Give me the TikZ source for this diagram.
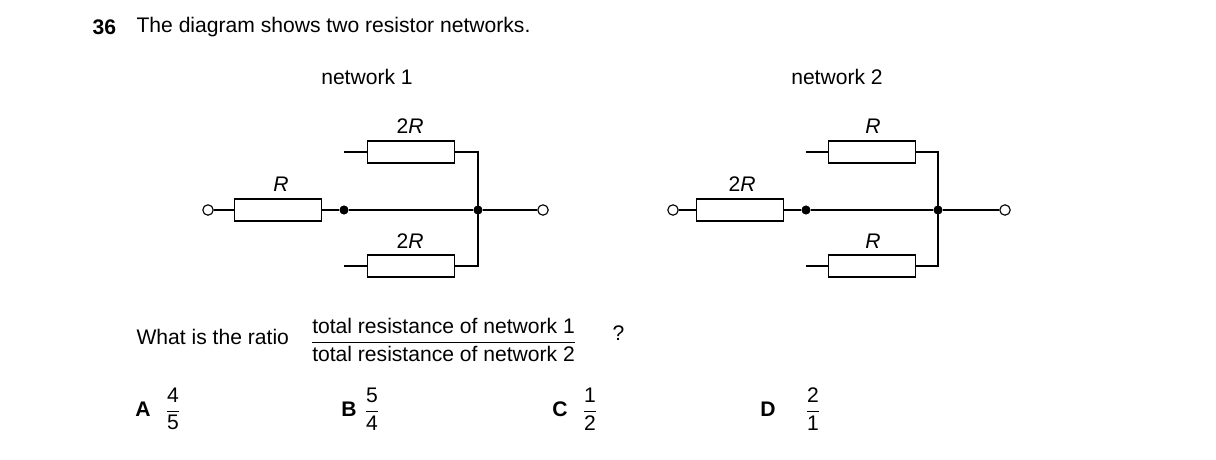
\documentclass[tikz,border=0pt]{standalone}
\usepackage{amsmath}
\usepackage{fontspec}
\setmainfont{Liberation Sans}
\usetikzlibrary{calc}
\tikzset{
  res/.style={draw, thick, rectangle, minimum width=2.175cm, minimum height=0.55cm, inner sep=0pt},
  junc/.style={circle, fill, inner sep=0pt, minimum size=2.2mm},
  term/.style={circle, draw, thick, fill=white, inner sep=0pt, minimum size=2.6mm},
  txt/.style={font=\fontsize{15}{18}\selectfont, inner sep=0pt},
}
\newcommand{\sfrac}[2]{$\dfrac{\text{#1}}{\text{#2}}$}
\begin{document}
\begin{tikzpicture}[x=0.025cm, y=-0.025cm, thick]
  \useasboundingbox (0,0) rectangle (1216,460);
  \node[txt, anchor=west] (num) at (92,27) {\textbf{36}};
  \node[txt, anchor=west] (title) at (136,27) {The diagram shows two resistor networks.};

  % network 1
  \node[txt] (lab1) at (367,77) {network 1};
  \node[term] (a1) at (208,210) {};
  \node[res] (r1) at (278,210) {};
  \node[junc] (j1) at (344,210) {};
  \node[res] (rt1) at (411,152) {};
  \node[res] (rb1) at (411,266) {};
  \node[junc] (k1) at (478,210) {};
  \node[term] (b1) at (543,210) {};
  \node[txt] at (281,184) {\textit{R}};
  \node[txt] at (410,126) {2\textit{R}};
  \node[txt] at (410,241) {2\textit{R}};
  \draw (a1) -- (r1) -- (j1) -- (k1) -- (b1);
  \draw (j1 |- rt1) -- (rt1) -- (k1 |- rt1) -- (k1 |- rb1) -- (rb1) -- (j1 |- rb1) -- cycle;

  % network 2
  \node[txt] (lab2) at (837,77) {network 2};
  \node[term] (a2) at (673,210) {};
  \node[res] (r2) at (740,210) {};
  \node[junc] (j2) at (806,210) {};
  \node[res] (rt2) at (872,152) {};
  \node[res] (rb2) at (872,266) {};
  \node[junc] (k2) at (938,210) {};
  \node[term] (b2) at (1005,210) {};
  \node[txt] at (742,184) {2\textit{R}};
  \node[txt] at (873,126) {\textit{R}};
  \node[txt] at (873,241) {\textit{R}};
  \draw (a2) -- (r2) -- (j2) -- (k2) -- (b2);
  \draw (j2 |- rt2) -- (rt2) -- (k2 |- rt2) -- (k2 |- rb2) -- (rb2) -- (j2 |- rb2) -- cycle;
  \node[junc] at (j1) {};
  \node[junc] at (k1) {};
  \node[junc] at (j2) {};
  \node[junc] at (k2) {};

  % question
  \node[txt, anchor=west] (q) at (136,337) {What is the ratio};
  \node[txt, anchor=west] (frac) at (310,340) {\sfrac{total resistance of network 1}{total resistance of network 2}};
  \node[txt, anchor=west] (qm) at (612,333) {?};

  % options
  \node[txt] (oa) at (143,409) {\textbf{A}};
  \node[txt] at (173,409) {\sfrac{4}{5}};
  \node[txt] (ob) at (349,409) {\textbf{B}};
  \node[txt] at (372,409) {\sfrac{5}{4}};
  \node[txt] (oc) at (560,409) {\textbf{C}};
  \node[txt] at (590,409) {\sfrac{1}{2}};
  \node[txt] (od) at (768,409) {\textbf{D}};
  \node[txt] at (813,409) {\sfrac{2}{1}};
\end{tikzpicture}
\end{document}
